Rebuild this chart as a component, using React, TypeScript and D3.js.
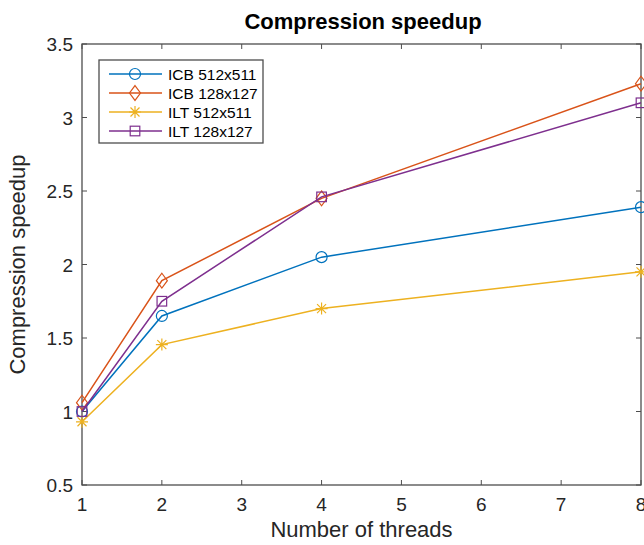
import React from 'react';
import * as d3 from 'd3';

// values
const threads = [1, 2, 4, 8];
const seriesNames = ['ICB 512x511', 'ICB 128x127', 'ILT 512x511', 'ILT 128x127'];
const icb512 = [1.0, 1.65, 2.05, 2.39];
const icb128 = [1.06, 1.89, 2.45, 3.23];
const ilt512 = [0.93, 1.455, 1.70, 1.95];
const ilt128 = [1.0, 1.75, 2.46, 3.1];
const xTicks = [1, 2, 3, 4, 5, 6, 7, 8];
const yTicks = [0.5, 1, 1.5, 2, 2.5, 3, 3.5];

const colors = ['#0072BD', '#D95319', '#EDB120', '#7E2F8E'];
const markers = ['circle', 'diamond', 'star', 'square'];
const allValues = [icb512, icb128, ilt512, ilt128];

const W = 644;
const H = 545;
const margin = {left: 82, right: 3, top: 44, bottom: 60};
const font = 'Liberation Sans, Arial, Helvetica, sans-serif';
const axisColor = '#4d4d4d';

function Marker({type, x, y, color}: {type: string, x: number, y: number, color: string}) {
    const s = 5.5;
    if (type === 'circle') {
        return <circle cx={x} cy={y} r={s} fill="none" stroke={color} strokeWidth={1.2}/>;
    }
    if (type === 'diamond') {
        const d = `M${x},${y - s * 1.35}L${x + s},${y}L${x},${y + s * 1.35}L${x - s},${y}Z`;
        return <path d={d} fill="none" stroke={color} strokeWidth={1.2}/>;
    }
    if (type === 'square') {
        return <rect x={x - 4.8} y={y - 4.8} width={9.6} height={9.6} fill="none" stroke={color} strokeWidth={1.2}/>;
    }
    // star: MATLAB '*' = plus + cross
    const a = 6, b = 4.5;
    const d = `M${x - a},${y}L${x + a},${y}M${x},${y - a}L${x},${y + a}` +
        `M${x - b},${y - b}L${x + b},${y + b}M${x - b},${y + b}L${x + b},${y - b}`;
    return <path d={d} fill="none" stroke={color} strokeWidth={1.2}/>;
}

export default function App() {
    const x = d3.scaleLinear().domain([1, 8]).range([margin.left, W - margin.right]);
    const y = d3.scaleLinear().domain([0.5, 3.5]).range([H - margin.bottom, margin.top]);
    const line = d3.line<number>()
        .x((_, i) => x(threads[i]))
        .y(d => y(d));

    const x0 = x.range()[0], x1 = x.range()[1];
    const y0 = y.range()[0], y1 = y.range()[1];

    const legendX = 99, legendY = 60, rowH = 19;

    return (
        <svg width={W} height={H} style={{position: 'absolute', left: 0, top: 0, background: '#fff'}}>
            <rect x={0} y={0} width={W} height={H} fill="#fff"/>
            {/* box */}
            <rect x={x0} y={y1} width={x1 - x0} height={y0 - y1} fill="none" stroke={axisColor} strokeWidth={1.3}/>
            {/* ticks */}
            {xTicks.map(t => (
                <g key={'xt' + t}>
                    <line x1={x(t)} x2={x(t)} y1={y0} y2={y0 - 5} stroke={axisColor}/>
                    <line x1={x(t)} x2={x(t)} y1={y1} y2={y1 + 5} stroke={axisColor}/>
                    <text x={x(t)} y={y0 + 26} textAnchor="middle" fontFamily={font} fontSize={19} fill="#262626">{t}</text>
                </g>
            ))}
            {yTicks.map(t => (
                <g key={'yt' + t}>
                    <line x1={x0} x2={x0 + 5} y1={y(t)} y2={y(t)} stroke={axisColor}/>
                    <line x1={x1} x2={x1 - 5} y1={y(t)} y2={y(t)} stroke={axisColor}/>
                    <text x={x0 - 9} y={y(t) + 7} textAnchor="end" fontFamily={font} fontSize={19} fill="#262626">{t}</text>
                </g>
            ))}
            {/* series */}
            {allValues.map((vals, si) => (
                <g key={'s' + si}>
                    <path d={line(vals) || ''} fill="none" stroke={colors[si]} strokeWidth={1.5}/>
                    {vals.map((v, i) => (
                        <Marker key={i} type={markers[si]} x={x(threads[i])} y={y(v)} color={colors[si]}/>
                    ))}
                </g>
            ))}
            {/* title and labels */}
            <text x={363} y={29} textAnchor="middle" fontFamily={font} fontSize={22} fontWeight="bold" fill="#000">Compression speedup</text>
            <text x={(x0 + x1) / 2} y={537} textAnchor="middle" fontFamily={font} fontSize={22} fill="#262626">Number of threads</text>
            <text transform={`translate(25,${(y0 + y1) / 2}) rotate(-90)`} textAnchor="middle" fontFamily={font} fontSize={22} fill="#262626">Compression speedup</text>
            {/* legend */}
            <rect x={legendX} y={legendY} width={164} height={83} fill="#fff" stroke={axisColor} strokeWidth={1.3}/>
            {seriesNames.map((name, i) => {
                const ly = legendY + 14 + i * rowH;
                return (
                    <g key={'l' + i}>
                        <line x1={legendX + 10} x2={legendX + 63} y1={ly} y2={ly} stroke={colors[i]} strokeWidth={1.5}/>
                        <Marker type={markers[i]} x={legendX + 36} y={ly} color={colors[i]}/>
                        <text x={legendX + 69} y={ly + 5.5} fontFamily={font} fontSize={15.5} fill="#000">{name}</text>
                    </g>
                );
            })}
        </svg>
    );
}
